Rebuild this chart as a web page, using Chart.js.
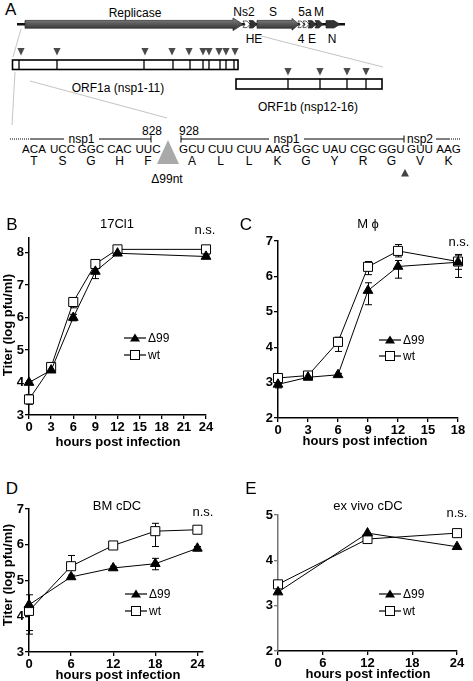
<!DOCTYPE html>
<html><head><meta charset="utf-8">
<script src="https://cdn.jsdelivr.net/npm/chart.js@4"></script>
<style>
html,body{margin:0;padding:0;background:#fff;}
#wrap{position:relative;width:473px;height:681px;overflow:hidden;font-family:"Liberation Sans",Arial,sans-serif;color:#000;background:#fff;}
.t{position:absolute;white-space:nowrap;line-height:1;transform:translate(-50%,-50%);}
canvas{position:absolute;}
.leg{position:absolute;display:flex;align-items:center;font-size:12px;line-height:1;white-space:nowrap;}
.leg svg{margin-right:2px;}
</style></head>
<body><div id="wrap">
<svg width="473" height="190" style="position:absolute;left:0;top:0" font-family="Liberation Sans, Arial, sans-serif">
<defs><linearGradient id="g" x1="0" y1="0" x2="0" y2="1"><stop offset="0" stop-color="#8a8a8a"/><stop offset="0.45" stop-color="#5a5a5a"/><stop offset="1" stop-color="#2e2e2e"/></linearGradient></defs>
<g stroke="#c4c4c4" stroke-width="1" fill="none">
<line x1="21" y1="29" x2="13" y2="57"/>
<line x1="257" y1="35" x2="383" y2="67"/>
<line x1="15" y1="72" x2="12" y2="125"/>
<line x1="30" y1="81" x2="167" y2="118"/>
</g>
<line x1="17" y1="24.3" x2="345" y2="24.3" stroke="#111" stroke-width="2.4"/>
<g stroke="#222" stroke-width="0.7">
<polygon points="25,20.4 233,20.4 233,18 243,24.3 233,30.6 233,28.2 25,28.2" fill="url(#g)"/>
<polygon points="243,21 247,21 250,24.3 247,27.6 243,27.6 245,24.3" fill="#fff"/>
<polygon points="249,20.6 253,20.6 257,24.3 253,28 249,28 251,24.3" fill="#333"/>
<polygon points="257,20.4 292,20.4 292,18.4 299,24.3 292,30.2 292,28.2 257,28.2" fill="url(#g)"/>
<polygon points="298,21 301,21 304,24.3 301,27.6 298,27.6 300,24.3" fill="#fff"/>
<polygon points="303,21 306,21 309,24.3 306,27.6 303,27.6 305,24.3" fill="#fff"/>
<polygon points="308,20.6 312,20.6 316,24.3 312,28 308,28 310,24.3" fill="#333"/>
<polygon points="315,20.6 319,20.6 323,24.3 319,28 315,28 317,24.3" fill="#333"/>
<polygon points="326,20.6 334,20.6 340,24.3 334,28 326,28" fill="#333"/>
</g>
<g font-size="12" text-anchor="middle" dominant-baseline="central">
<text x="135" y="12.5">Replicase</text>
<text x="244" y="11.5">Ns2</text>
<text x="273" y="11.5">S</text>
<text x="305" y="11.5">5a</text>
<text x="319" y="11.5">M</text>
<text x="254" y="39">HE</text>
<text x="301" y="39">4</text>
<text x="312" y="39">E</text>
<text x="332" y="39">N</text>
</g>
<text x="5" y="9" font-size="17" dominant-baseline="central">A</text>
<rect x="12.5" y="60" width="225.5" height="9.5" fill="#fff" stroke="#000" stroke-width="1.6"/>
<g stroke="#000" stroke-width="1.3" id="divA"></g>
<g fill="#4a4a4a" id="triA"></g>
<rect x="236" y="79" width="146" height="10" fill="#fff" stroke="#000" stroke-width="1.6"/>
<g stroke="#000" stroke-width="1.3" id="divB"></g>
<g fill="#4a4a4a" id="triB"></g>
<g font-size="12" text-anchor="middle" dominant-baseline="central">
<text x="118" y="88">ORF1a (nsp1-11)</text>
<text x="308" y="107">ORF1b (nsp12-16)</text>
</g>
<g stroke="#000" stroke-width="1" fill="none">
<line x1="10" y1="139" x2="30" y2="139" stroke-dasharray="1,1"/>
<line x1="30" y1="139" x2="64" y2="139"/>
<line x1="99" y1="139" x2="151" y2="139"/>
<line x1="151" y1="135.5" x2="151" y2="142.5"/>
<line x1="181" y1="135.5" x2="181" y2="142.5"/>
<line x1="181" y1="139" x2="269" y2="139"/>
<line x1="304" y1="139" x2="404" y2="139"/>
<line x1="404" y1="135.5" x2="404" y2="142.5"/>
<line x1="436" y1="139" x2="449" y2="139"/>
<line x1="449" y1="139" x2="461" y2="139" stroke-dasharray="1,1"/>
</g>
<g font-size="12" text-anchor="middle" dominant-baseline="central">
<text x="81.5" y="138.5">nsp1</text>
<text x="286.5" y="138.5">nsp1</text>
<text x="420" y="138.5">nsp2</text>
<text x="152" y="131">828</text>
<text x="189" y="131">928</text>
</g>
<g font-size="11.6" text-anchor="middle" dominant-baseline="central" id="codons"></g>
<g font-size="12" text-anchor="middle" dominant-baseline="central" id="aas"></g>
<polygon points="168,140 157,164 179,164" fill="#a9a9a9"/>
<text x="167" y="178.5" font-size="12" text-anchor="middle" dominant-baseline="central">Δ99nt</text>
<polygon points="405,169 401,176.5 409,176.5" fill="#444"/>
</svg>
<canvas id="cB" width="220" height="210" style="left:0;top:228px"></canvas>
<canvas id="cC" width="224" height="210" style="left:249px;top:231px"></canvas>
<canvas id="cD" width="220" height="176" style="left:0;top:499px"></canvas>
<canvas id="cE" width="224" height="169" style="left:249px;top:505px"></canvas>
</div>
<script>
// ---------- Panel A schematic content ----------
const orf1aDividers = [19, 57, 144, 173, 190, 203, 209, 220, 226, 234];
const orf1aCleavage = [21, 57, 145, 172, 189, 203, 209, 219, 226, 235];
const orf1bDividers = [288, 320, 347, 366];
const orf1bCleavage = [288, 320, 347, 366];
const codonsLeft = ["ACA", "UCC", "GGC", "CAC", "UUC"];
const aaLeft = ["T", "S", "G", "H", "F"];
const codonsRight = ["GCU", "CUU", "CUU", "AAG", "GGC", "UAU", "CGC", "GGU", "GUU", "AAG"];
const aaRight = ["A", "L", "L", "K", "G", "Y", "R", "G", "V", "K"];

// ---------- Growth curve data (log pfu/ml) ----------
const hoursB = [0, 3, 6, 9, 12, 24];
const d99B = [4.0, 4.38, 6.0, 7.42, 7.98, 7.88];
const d99B_lo = [3.95, 4.33, 5.9, 7.2, 7.93, 7.83];
const d99B_hi = [4.05, 4.43, 6.1, 7.6, 8.03, 7.93];
const wtB = [3.48, 4.48, 6.48, 7.65, 8.1, 8.1];
const wtB_lo = [3.33, 4.38, 6.3, 7.55, 8.02, 8.05];
const wtB_hi = [3.63, 4.58, 6.58, 7.75, 8.18, 8.15];
const xTicksB = [0, 3, 6, 9, 12, 15, 18, 21, 24];
const yTicksB = [3, 4, 5, 6, 7, 8];

const hoursC = [0, 3, 6, 9, 12, 18];
const d99C = [2.95, 3.15, 3.22, 5.6, 6.28, 6.4];
const d99C_lo = [2.85, 3.1, 3.18, 5.2, 5.95, 5.97];
const d99C_hi = [3.02, 3.2, 3.26, 5.82, 6.45, 6.6];
const wtC = [3.13, 3.2, 4.15, 6.27, 6.72, 6.42];
const wtC_lo = [3.08, 3.15, 3.88, 6.05, 6.55, 6.2];
const wtC_hi = [3.18, 3.25, 4.28, 6.42, 6.9, 6.62];
const xTicksC = [0, 3, 6, 9, 12, 15, 18];
const yTicksC = [2, 3, 4, 5, 6, 7];

const hoursD = [0, 6, 12, 18, 24];
const d99D = [4.32, 5.1, 5.35, 5.47, 5.9];
const d99D_lo = [3.6, 5.05, 5.3, 5.3, 5.83];
const d99D_hi = [4.6, 5.15, 5.4, 5.62, 5.95];
const wtD = [4.15, 5.4, 5.98, 6.38, 6.42];
const wtD_lo = [3.5, 5.35, 5.93, 5.95, 6.37];
const wtD_hi = [4.2, 5.7, 6.03, 6.6, 6.47];
const xTicksD = [0, 6, 12, 18, 24];
const yTicksD = [3, 4, 5, 6, 7];

const hoursE = [0, 12, 24];
const d99E = [3.3, 4.6, 4.3];
const wtE = [3.47, 4.47, 4.6];
const xTicksE = [0, 6, 12, 18, 24];
const yTicksE = [2, 3, 4, 5];

// ---------- build panel A pieces ----------
const NS = "http://www.w3.org/2000/svg";
function svgEl(parent, tag, attrs, txt) {
  const e = document.createElementNS(NS, tag);
  for (const k in attrs) e.setAttribute(k, attrs[k]);
  if (txt !== undefined) e.textContent = txt;
  document.getElementById(parent).appendChild(e);
}
orf1aDividers.forEach(x => svgEl("divA", "line", {x1: x, y1: 60, x2: x, y2: 69.5}));
orf1aCleavage.forEach(x => svgEl("triA", "polygon", {points: `${x-3.6},48 ${x+3.6},48 ${x},55.5`}));
orf1bDividers.forEach(x => svgEl("divB", "line", {x1: x, y1: 79, x2: x, y2: 89}));
orf1bCleavage.forEach(x => svgEl("triB", "polygon", {points: `${x-3.6},68 ${x+3.6},68 ${x},75.5`}));
codonsLeft.forEach((c, i) => { const x = 34 + i * 28.5; svgEl("codons", "text", {x, y: 148.5}, c); svgEl("aas", "text", {x, y: 160.5}, aaLeft[i]); });
codonsRight.forEach((c, i) => { const x = 192 + i * 28.5; svgEl("codons", "text", {x, y: 148.5}, c); svgEl("aas", "text", {x, y: 160.5}, aaRight[i]); });

// ---------- text helpers ----------
const wrap = document.getElementById("wrap");
function label(txt, x, y, size, bold, rot) {
  const d = document.createElement("div");
  d.className = "t"; d.textContent = txt;
  d.style.left = x + "px"; d.style.top = y + "px"; d.style.fontSize = size + "px";
  if (bold) d.style.fontWeight = "bold";
  if (rot) d.style.transform = "translate(-50%,-50%) rotate(-90deg)";
  wrap.appendChild(d);
}
function legendRow(txt, x, y, filled) {
  const d = document.createElement("div");
  d.className = "leg";
  d.style.left = x + "px"; d.style.top = (y - 6) + "px"; d.style.height = "12px";
  const sym = filled
    ? '<polygon points="11,1.5 16,9.5 6,9.5" fill="#000"/>'
    : '<rect x="6.5" y="1.5" width="9" height="9" fill="#fff" stroke="#000" stroke-width="1"/>';
  d.innerHTML = '<svg width="22" height="12"><line x1="0" y1="6" x2="22" y2="6" stroke="#000" stroke-width="1.2"/>' + sym + '</svg><span>' + txt + '</span>';
  wrap.appendChild(d);
}

// ---------- charts ----------
const FONT = "'Liberation Sans', Arial, sans-serif";
const errorBars = {
  id: "errorBars",
  beforeDatasetsDraw(chart) {
    const {ctx} = chart, x = chart.scales.x, y = chart.scales.y;
    ctx.save(); ctx.strokeStyle = "#000"; ctx.lineWidth = 1;
    chart.data.datasets.forEach(ds => {
      if (!ds.errLo) return;
      ds.data.forEach((p, i) => {
        const px = Math.round(x.getPixelForValue(p.x)) + 0.5;
        const lo = y.getPixelForValue(ds.errLo[i]), hi = y.getPixelForValue(ds.errHi[i]);
        ctx.beginPath();
        ctx.moveTo(px, lo); ctx.lineTo(px, hi);
        ctx.moveTo(px - 3.5, lo); ctx.lineTo(px + 3.5, lo);
        ctx.moveTo(px - 3.5, hi); ctx.lineTo(px + 3.5, hi);
        ctx.stroke();
      });
    });
    ctx.restore();
  }
};

function panel(id, hours, d99, d99Lo, d99Hi, wt, wtLo, wtHi, xTicks, yTicks, xMax, yMin, yMax, padTop, padRight, yColor) {
  const pts = arr => hours.map((h, i) => ({x: h, y: arr[i]}));
  const axisCommon = (ticks, color) => ({
    type: "linear",
    afterBuildTicks: s => { s.ticks = ticks.map(v => ({value: v})); },
    grid: {drawOnChartArea: false, drawTicks: true, tickLength: 4, color: color, lineWidth: 1.3},
    border: {display: true, color: color, width: 1.5},
    ticks: {color: "#000", font: {family: FONT, size: 13, weight: "bold"}, autoSkip: false, maxRotation: 0, padding: 1}
  });
  const xs = axisCommon(xTicks, "#000"); xs.min = 0; xs.max = xMax; xs.afterFit = s => { s.height = 23; };
  const ys = axisCommon(yTicks, yColor); ys.min = yMin; ys.max = yMax; ys.afterFit = s => { s.width = 29; };
  new Chart(document.getElementById(id), {
    type: "line",
    data: {datasets: [
      {label: "Δ99", data: pts(d99), errLo: d99Lo, errHi: d99Hi, borderColor: "#000", borderWidth: 1, tension: 0,
       pointStyle: "triangle", pointRadius: 5.6, pointBackgroundColor: "#000", pointBorderColor: "#000", pointBorderWidth: 1, clip: false},
      {label: "wt", data: pts(wt), errLo: wtLo, errHi: wtHi, borderColor: "#000", borderWidth: 1, tension: 0,
       pointStyle: "rect", pointRadius: 6.4, pointBackgroundColor: "#fff", pointBorderColor: "#000", pointBorderWidth: 1, clip: false}
    ]},
    options: {
      responsive: false, animation: false, events: [],
      layout: {padding: {top: padTop, right: padRight, left: 0, bottom: 0}},
      plugins: {legend: {display: false}, tooltip: {enabled: false}},
      scales: {x: xs, y: ys}
    },
    plugins: [errorBars]
  });
}

panel("cB", hoursB, d99B, d99B_lo, d99B_hi, wtB, wtB_lo, wtB_hi, xTicksB, yTicksB, 24, 3, 8.45, 10, 14, "#000");
panel("cC", hoursC, d99C, d99C_lo, d99C_hi, wtC, wtC_lo, wtC_hi, xTicksC, yTicksC, 18, 2, 7, 10, 15, "#000");
panel("cD", hoursD, d99D, d99D_lo, d99D_hi, wtD, wtD_lo, wtD_hi, xTicksD, yTicksD, 24.8, 3, 7, 10, 17, "#000");
panel("cE", hoursE, d99E, null, null, wtE, null, null, xTicksE, yTicksE, 24, 2, 5, 10, 16, "#777");

// ---------- labels ----------
label("B", 12, 224, 17); label("17Cl1", 117, 223, 13); label("n.s.", 205, 229, 13);
label("C", 246, 224, 17); label("M ϕ", 368, 223, 13); label("n.s.", 459, 241, 13);
label("D", 12, 488, 17); label("BM cDC", 117, 505, 13); label("n.s.", 203, 511, 13);
label("E", 251, 488, 17); label("ex vivo cDC", 368, 505, 13); label("n.s.", 457, 512, 13);
label("Titer (log pfu/ml)", 7, 325, 13, true, true);
label("Titer (log pfu/ml)", 7, 575, 13, true, true);
label("hours post infection", 118, 441, 13, true);
label("hours post infection", 365, 440, 13, true);
label("hours post infection", 118, 674, 13, true);
label("hours post infection", 368, 673, 13, true);
legendRow("Δ99", 124, 338, true); legendRow("wt", 124, 355, false);
legendRow("Δ99", 379, 340, true); legendRow("wt", 379, 356, false);
legendRow("Δ99", 125, 594, true); legendRow("wt", 125, 611, false);
legendRow("Δ99", 379, 594, true); legendRow("wt", 379, 611, false);
</script>
</body></html>
